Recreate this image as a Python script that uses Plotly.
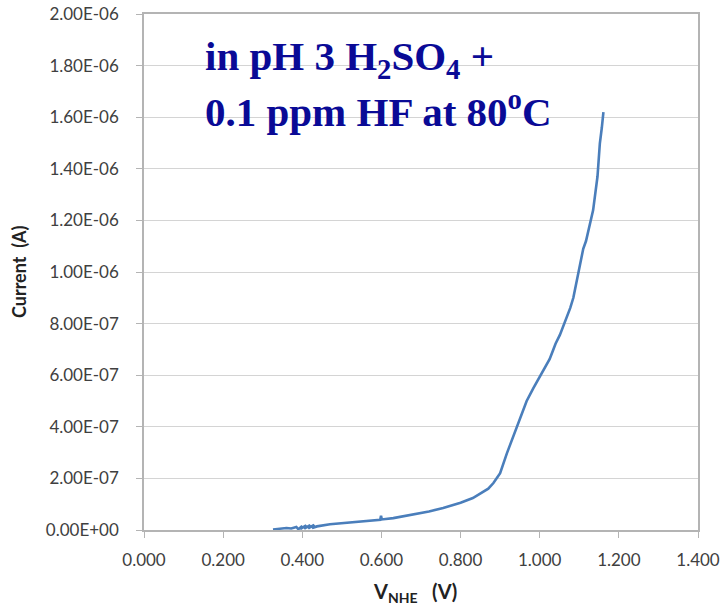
import plotly.graph_objects as go

# ---- data ----
voltage = [0.326, 0.345, 0.36, 0.372, 0.385, 0.39, 0.40, 0.395, 0.41, 0.405, 0.42, 0.415, 0.43, 0.425,
           0.437, 0.47, 0.51, 0.55, 0.59, 0.597, 0.599, 0.601, 0.63, 0.672, 0.72, 0.756, 0.80, 0.831,
           0.85, 0.87, 0.883, 0.9, 0.917, 0.933, 0.95, 0.967, 0.984, 1.001, 1.008, 1.018, 1.025,
           1.034, 1.04, 1.051, 1.06, 1.068, 1.077, 1.085, 1.098, 1.104, 1.110, 1.117, 1.123, 1.135,
           1.146, 1.152, 1.157, 1.161]
current_e7 = [0.02, 0.05, 0.08, 0.06, 0.12, 0.03, 0.16, 0.04, 0.18, 0.05, 0.19, 0.06, 0.20, 0.08,
              0.14, 0.22, 0.28, 0.33, 0.38, 0.40, 0.55, 0.41, 0.46, 0.58, 0.72, 0.85, 1.06, 1.24,
              1.42, 1.60, 1.82, 2.2, 2.97, 3.62, 4.39, 5.0, 5.5, 5.95, 6.12, 6.4, 6.62,
              6.98, 7.22, 7.56, 7.9, 8.2, 8.6, 9.0, 9.95, 10.4, 10.9, 11.2, 11.6, 12.4,
              13.7, 14.99, 15.6, 16.2]
current = [c * 1e-7 for c in current_e7]

x_ticks = [0.0, 0.2, 0.4, 0.6, 0.8, 1.0, 1.2, 1.4]
y_ticks = [i * 2e-7 for i in range(11)]
y_tick_labels = ["0.00E+00", "2.00E-07", "4.00E-07", "6.00E-07", "8.00E-07", "1.00E-06",
                 "1.20E-06", "1.40E-06", "1.60E-06", "1.80E-06", "2.00E-06"]

title_line1 = "in pH 3 H<sub>2</sub>SO<sub>4</sub> +"
title_line2 = "0.1 ppm HF at 80<sup>o</sup>C"
x_title = "V<sub>NHE</sub>\u00a0\u00a0\u00a0(V)"
y_title = "Current\u00a0\u00a0(A)"

fig = go.Figure()
fig.add_trace(go.Scatter(x=voltage, y=current, mode="lines",
                         line=dict(color="#4a7ebb", width=2.6), showlegend=False))

axis_common = dict(showline=True, linecolor="#b4b4b4", linewidth=1.5, mirror=True,
                   ticks="outside", ticklen=6, tickcolor="#b4b4b4", automargin=False,
                   ticklabeloverflow="allow",
                   tickfont=dict(family="Lato", size=17, color="#404040"), zeroline=False)

fig.update_layout(
    width=724, height=610,
    margin=dict(l=144, r=26, t=14, b=80),
    paper_bgcolor="white", plot_bgcolor="white",
    xaxis=dict(range=[0, 1.4], tickvals=x_ticks, tickformat=".3f", showgrid=False,
               ticklabelstandoff=8, **axis_common),
    yaxis=dict(range=[0, 2e-6], tickvals=y_ticks, ticktext=y_tick_labels,
               showgrid=True, gridcolor="#d4d4d4", gridwidth=1.3,
               ticklabelstandoff=14, **axis_common),
    annotations=[
        dict(text=title_line1, xref="paper", yref="paper", x=(203 - 144) / 554, y=0.9136,
             xanchor="left", yanchor="middle", showarrow=False,
             font=dict(family="Liberation Serif", size=41, color="#0a0a96", weight="bold")),
        dict(text=title_line2, xref="paper", yref="paper", x=(203 - 144) / 554, y=0.8167,
             xanchor="left", yanchor="middle", showarrow=False,
             font=dict(family="Liberation Serif", size=41, color="#0a0a96", weight="bold")),
        dict(text=x_title, xref="paper", yref="paper", x=0.5, y=0, yshift=-62, xshift=-6,
             xanchor="center", yanchor="middle", showarrow=False,
             font=dict(family="Lato", size=20, color="#222222", weight="bold")),
        dict(text=y_title, xref="paper", yref="paper", x=0, y=0.5, xshift=-125,
             xanchor="center", yanchor="middle", showarrow=False, textangle=-90,
             font=dict(family="Lato", size=18, color="#222222", weight="bold")),
    ],
)

fig.write_html("out.html", config={"displayModeBar": False},
               post_script="document.body.style.margin='0';")
